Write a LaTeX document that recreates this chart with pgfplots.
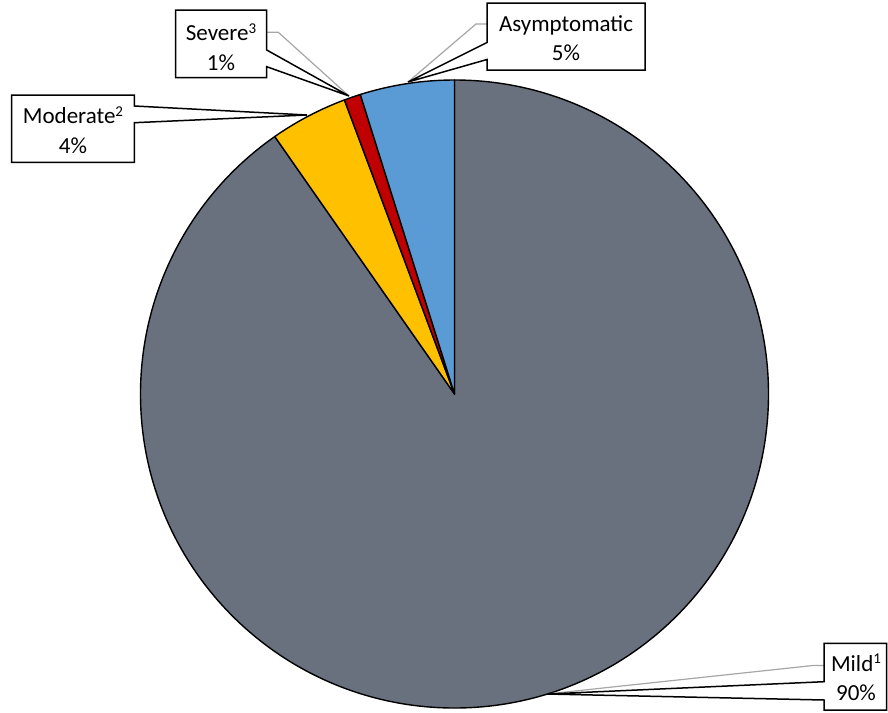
\documentclass[border=0pt]{standalone}
\usepackage{fontspec}
\setmainfont{Carlito}
\usepackage{pgfplots}
\usepackage{pgfplotstable}
\pgfplotsset{compat=1.18}

\definecolor{mildgray}{HTML}{6A717E}
\definecolor{modyellow}{HTML}{FFC000}
\definecolor{sevred}{HTML}{C00000}
\definecolor{asymblue}{HTML}{5B9BD5}
\definecolor{leadergray}{HTML}{A6A6A6}

% share of each slice, clockwise from 12 o'clock
\pgfplotstableread{
label        value
Mild         90.3
Moderate     4.0
Severe       0.85
Asymptomatic 4.85
}\slices

\newcommand{\sups}[1]{\raisebox{0.33em}{\fontsize{7.5}{8}\selectfont #1}}

\begin{document}
\begin{tikzpicture}[font=\fontsize{11.5}{14.8}\selectfont,
    lbl/.style={inner sep=0pt, align=center},
    callout/.style={draw=black, fill=white, line width=0.75pt, line join=miter},
    leader/.style={draw=leadergray, line width=0.6pt}]
\pgfplotstablegetelem{0}{value}\of\slices \let\vA\pgfplotsretval
\pgfplotstablegetelem{1}{value}\of\slices \let\vB\pgfplotsretval
\pgfplotstablegetelem{2}{value}\of\slices \let\vC\pgfplotsretval
\pgfplotstablegetelem{3}{value}\of\slices \let\vD\pgfplotsretval
\pgfmathsetmacro\aA{90-3.6*\vA}
\pgfmathsetmacro\aB{\aA-3.6*\vB}
\pgfmathsetmacro\aC{\aB-3.6*\vC}
\pgfmathsetmacro\aD{\aC-3.6*\vD}
\def\R{157pt}
\begin{axis}[x=0.5pt, y=0.5pt, xmin=0, xmax=888, ymin=0, ymax=712,
    y dir=reverse, hide axis, clip=false]
  \path (axis cs:0,0) (axis cs:888,712);

  % slices
  \filldraw[fill=mildgray, line width=0.7pt, line join=round]
    (axis cs:454.5,394) -- +(90:\R) arc[start angle=90, end angle=\aA, radius=\R] -- cycle;
  \filldraw[fill=modyellow, line width=0.7pt, line join=round]
    (axis cs:454.5,394) -- +(\aA:\R) arc[start angle=\aA, end angle=\aB, radius=\R] -- cycle;
  \filldraw[fill=sevred, line width=0.7pt, line join=round]
    (axis cs:454.5,394) -- +(\aB:\R) arc[start angle=\aB, end angle=\aC, radius=\R] -- cycle;
  \filldraw[fill=asymblue, line width=0.7pt, line join=round]
    (axis cs:454.5,394) -- +(\aC:\R) arc[start angle=\aC, end angle=\aD, radius=\R] -- cycle;

  % leader lines
  \draw[leader] (axis cs:487,24) -- (axis cs:476,24) -- (axis cs:408,82);
  \draw[leader] (axis cs:266.7,32.3) -- (axis cs:278.3,32.3) -- (axis cs:349,96);
  \draw[leader] (axis cs:824,665.5) -- (axis cs:813,665.5) -- (axis cs:547,694);

  % callout boxes
  \draw[callout] (axis cs:487,3) -- (axis cs:645,3) -- (axis cs:645,70) -- (axis cs:487,70)
    -- (axis cs:487,59.5) -- (axis cs:408,82) -- (axis cs:487,42.5) -- cycle;
  \draw[callout] (axis cs:175.7,10) -- (axis cs:266.7,10) -- (axis cs:266.7,50)
    -- (axis cs:349,96) -- (axis cs:266.7,66.7) -- (axis cs:266.7,77.7)
    -- (axis cs:175.7,77.7) -- cycle;
  \draw[callout] (axis cs:11.7,95) -- (axis cs:134.3,95) -- (axis cs:134.3,106)
    -- (axis cs:307,115) -- (axis cs:134.3,122.7) -- (axis cs:134.3,162.3)
    -- (axis cs:11.7,162.3) -- cycle;
  \draw[callout] (axis cs:824,643.3) -- (axis cs:886.5,643.3) -- (axis cs:886.5,710)
    -- (axis cs:824,710) -- (axis cs:824,700) -- (axis cs:547,694)
    -- (axis cs:824,681.7) -- cycle;

  % label texts
  \node[lbl] at (axis cs:566,38) {Asymptomatic\\5\%};
  \node[lbl] at (axis cs:221,47) {Severe\sups{3}\\1\%};
  \node[lbl] at (axis cs:73,130) {Moderate\sups{2}\\4\%};
  \node[lbl] at (axis cs:856,677.5) {Mild\sups{1}\\90\%};
\end{axis}
\end{tikzpicture}
\end{document}
